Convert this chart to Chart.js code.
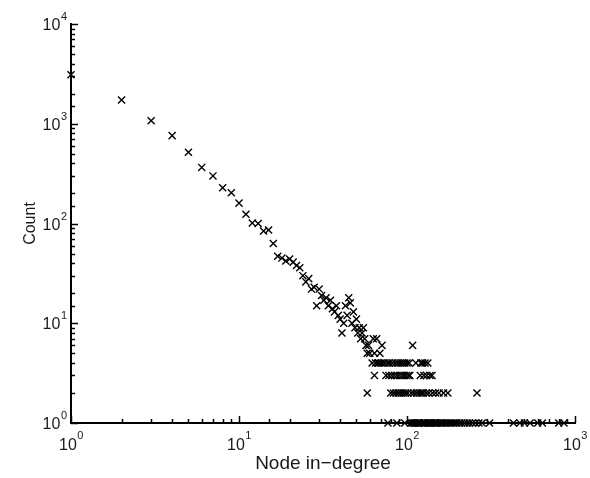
<!DOCTYPE html>
<html>
<head>
<meta charset="utf-8">
<script src="https://cdn.jsdelivr.net/npm/chart.js@4/dist/chart.umd.min.js"></script>
<style>
  html, body { margin: 0; padding: 0; background: #fff; }
  canvas { display: block; }
</style>
</head>
<body>
<canvas id="degreeChart" width="590" height="478"></canvas>
<script>
// ********************* data ***********************
// in-degree 1..60 along the main diagonal
const mainDegree = [
    1, 2, 3, 4, 5, 6, 7, 8, 9, 10,
    11, 12, 13, 14, 15, 16, 17, 18, 19, 20,
    21, 22, 23, 24, 25, 26, 27, 28, 29, 30,
    31, 32, 33, 34, 35, 36, 37, 38, 39, 40,
    41, 42, 43, 44, 45, 46, 47, 48, 49, 50,
    51, 52, 53, 54, 55, 56, 57, 58, 59, 60,
];
const mainCount = [
    3100, 1730, 1070, 760, 517, 365, 300, 228, 203, 160,
    124, 101, 100, 84, 86, 63, 47, 45, 42, 44,
    41, 38, 36, 30, 26, 28, 22, 23, 15, 22,
    19, 17, 18, 15, 17, 14, 13, 15, 12, 11,
    8, 10, 15, 12, 18, 16, 10, 13, 9, 11,
    8, 9, 7, 8, 9, 7, 6, 5, 6, 5,
];

// the tail: small counts, one list of degrees per count level
const tailCount7 = [63, 66];
const tailCount6 = [71, 108];
const tailCount5 = [64, 69];
const tailCount4 = [62, 65, 67, 68, 70, 72, 74, 77, 79, 82, 85, 88, 91, 94, 97, 100, 103, 113, 121, 124, 128, 133];
const tailCount3 = [64, 75, 78, 81, 84, 87, 90, 93, 96, 99, 102, 104, 120, 126, 131, 137, 141];
const tailCount2 = [58, 80, 83, 86, 89, 92, 95, 98, 101, 106, 110, 114, 118, 122, 125, 130, 135, 142, 148, 155, 165, 175, 261];
const tailCount1 = [
    77, 87, 97, 105, 107, 109, 111, 112, 115, 116, 117, 119, 123, 127, 129, 132, 134, 136, 138, 140,
    143, 145, 147, 150, 152, 157, 160, 163, 168, 172, 178, 183, 188, 193, 198, 205, 212, 220, 228, 236,
    245, 255, 268, 280, 310, 430, 470, 500, 540, 600, 640, 800, 860,
];

const xTickPowers = [0, 1, 2, 3];
const yTickPowers = [0, 1, 2, 3, 4];

// ********************* build points ***********************
const points = mainDegree.map((d, i) => ({ x: d, y: mainCount[i] }));
[[tailCount1, 1], [tailCount2, 2], [tailCount3, 3], [tailCount4, 4],
 [tailCount5, 5], [tailCount6, 6], [tailCount7, 7]].forEach(([list, c]) => {
    list.forEach(d => points.push({ x: d, y: c }));
});

function powerOf(value) {
    const p = Math.log10(value);
    return Math.abs(p - Math.round(p)) < 1e-9 ? Math.round(p) : null;
}

const FONT = '"Liberation Sans", Arial, sans-serif';

// ticks point into the plot, long at decades, short in between
const inwardTicks = {
    id: 'inwardTicks',
    afterDraw(chart) {
        const ctx = chart.ctx;
        const xs = chart.scales.x;
        const ys = chart.scales.y;
        ctx.save();
        ctx.strokeStyle = '#000';
        ctx.lineWidth = 1.5;
        xs.ticks.forEach(t => {
            const px = Math.round(xs.getPixelForValue(t.value)) + 0.5;
            const len = powerOf(t.value) !== null ? 7 : 4;
            ctx.beginPath();
            ctx.moveTo(px, xs.top);
            ctx.lineTo(px, xs.top - len);
            ctx.stroke();
        });
        ys.ticks.forEach(t => {
            const py = Math.round(ys.getPixelForValue(t.value)) + 0.5;
            const len = powerOf(t.value) !== null ? 7 : 4;
            ctx.beginPath();
            ctx.moveTo(ys.right, py);
            ctx.lineTo(ys.right + len, py);
            ctx.stroke();
        });
        ctx.restore();
    }
};

// decade labels as 10 with a raised exponent
const powerLabels = {
    id: 'powerLabels',
    afterDraw(chart) {
        const ctx = chart.ctx;
        const xs = chart.scales.x;
        const ys = chart.scales.y;
        ctx.save();
        ctx.fillStyle = '#1a1a1a';
        ctx.textBaseline = 'alphabetic';
        const base = '16px ' + FONT;
        const sup = '11px ' + FONT;
        function parts(p) {
            ctx.font = base;
            const w1 = ctx.measureText('10').width;
            ctx.font = sup;
            const w2 = ctx.measureText(String(p)).width;
            return [w1, w2];
        }
        xTickPowers.forEach(p => {
            const px = xs.getPixelForValue(Math.pow(10, p));
            const [w1, w2] = parts(p);
            const left = px - (w1 + w2) / 2;
            const baseY = xs.top + 27;
            ctx.textAlign = 'left';
            ctx.font = base;
            ctx.fillText('10', left, baseY);
            ctx.font = sup;
            ctx.fillText(String(p), left + w1 + 0.5, baseY - 11);
        });
        yTickPowers.forEach(p => {
            const py = ys.getPixelForValue(Math.pow(10, p));
            const [w1, w2] = parts(p);
            const right = ys.right - 4;
            const baseY = py + 6;
            ctx.textAlign = 'left';
            ctx.font = base;
            ctx.fillText('10', right - w2 - 0.5 - w1, baseY);
            ctx.font = sup;
            ctx.fillText(String(p), right - w2, baseY - 10);
        });
        ctx.restore();
    }
};

const config = {
    type: 'scatter',
    data: {
        datasets: [{
            label: 'Count',
            data: points,
            pointStyle: 'crossRot',
            pointRadius: 5,
            pointHoverRadius: 5,
            borderColor: '#000',
            backgroundColor: 'rgba(0,0,0,0)',
            borderWidth: 1.4,
            clip: false,
        }]
    },
    options: {
        responsive: false,
        animation: false,
        devicePixelRatio: 1,
        layout: { padding: { top: 24, right: 15, left: 0, bottom: 0 }, autoPadding: false },
        plugins: { legend: { display: false }, tooltip: { enabled: false } },
        scales: {
            x: {
                type: 'logarithmic',
                min: 1,
                max: 1000,
                grid: { display: false },
                border: { display: true, color: '#000', width: 2 },
                ticks: { display: false, autoSkip: false },
                title: {
                    display: true,
                    text: 'Node in\u2212degree',
                    color: '#1a1a1a',
                    font: { family: FONT, size: 19 },
                    padding: { top: 0, bottom: 3 },
                },
                afterFit(scale) { scale.height = 55; },
            },
            y: {
                type: 'logarithmic',
                min: 1,
                max: 10000,
                grid: { display: false },
                border: { display: true, color: '#000', width: 2 },
                ticks: { display: false, autoSkip: false },
                title: {
                    display: true,
                    text: 'Count',
                    color: '#1a1a1a',
                    font: { family: FONT, size: 16 },
                    padding: { top: 21, bottom: 0 },
                },
                afterFit(scale) { scale.width = 71; },
            }
        }
    },
    plugins: [inwardTicks, powerLabels]
};

const degreeChart = new Chart(
    document.getElementById('degreeChart'),
    config
);
</script>
</body>
</html>
